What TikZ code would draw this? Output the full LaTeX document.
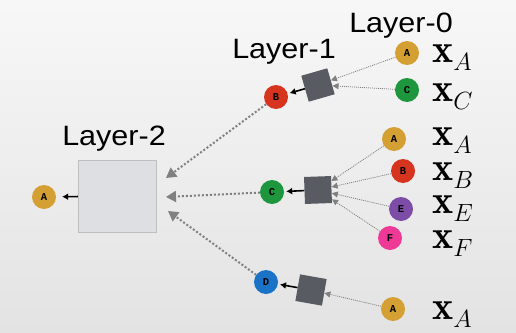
\documentclass[tikz,border=0pt]{standalone}
\usepackage{fontspec}
\usetikzlibrary{arrows.meta}
\newfontfamily\layerfont{Liberation Sans}[FakeStretch=1.09]
\newfontfamily\tagfont{Liberation Mono}
\definecolor{gold}{RGB}{212,160,52}
\definecolor{redv}{RGB}{214,52,30}
\definecolor{greenv}{RGB}{30,150,62}
\definecolor{purplev}{RGB}{124,76,166}
\definecolor{pinkv}{RGB}{238,58,150}
\definecolor{bluev}{RGB}{27,115,200}
\definecolor{aggfill}{RGB}{88,92,98}
\definecolor{boxfill}{RGB}{221,223,226}

\begin{document}
\begin{tikzpicture}[x=1pt,y=-1pt,
  vtx/.style={circle,fill=#1,minimum size=24pt,inner sep=0pt,font=\tagfont\bfseries\fontsize{10.5}{10.5}\selectfont},
  agg/.style={fill=aggfill,minimum size=27pt,inner sep=0pt},
  layer/.style={anchor=base,inner sep=0pt,text height=20pt,text depth=5pt,font=\layerfont\fontsize{28}{28}\selectfont},
  feat/.style={anchor=base west,inner sep=0pt,text height=18pt,text depth=5pt,font=\fontsize{40}{40}\selectfont},
  msg/.style={gray,line width=0.8pt,dash pattern=on 1pt off 1pt,-{Triangle[length=6pt,width=6pt]}},
  bigmsg/.style={gray,line width=2pt,dash pattern=on 2pt off 2pt,-{Triangle[length=10pt,width=11pt]}},
  outarrow/.style={black,line width=1.6pt,shorten >=2pt,-{Latex[length=6pt,width=7pt]}}
]
  \useasboundingbox (0,0) rectangle (516,332);
  \shade[top color=white!97!black,bottom color=white!89!black] (0,0) rectangle (516,332);

  \node[layer] (lab0) at (401,32) {Layer-0};
  \node[layer] (lab1) at (284,58) {Layer-1};
  \node[layer] (lab2) at (114,145) {Layer-2};

  \node[fill=boxfill,draw=gray!50,line width=0.4pt,minimum width=78pt,minimum height=72pt] (L2) at (117,196) {};
  \node[vtx=gold] (a2) at (44,197) {A};

  \node[agg,rotate=16] (sq1) at (318,85) {};
  \node[agg,rotate=2] (sq2) at (318,190) {};
  \node[agg,rotate=-10] (sq3) at (311,290) {};

  \node[vtx=redv] (b1) at (276,97) {B};
  \node[vtx=greenv] (c1) at (272,192) {C};
  \node[vtx=bluev] (d1) at (266,282) {D};

  \node[vtx=gold] (ta) at (407,53) {A};
  \node[vtx=greenv] (tc) at (407,90) {C};
  \node[vtx=gold] (ma) at (394,139) {A};
  \node[vtx=redv] (mb) at (403,171) {B};
  \node[vtx=purplev] (me) at (401,209) {E};
  \node[vtx=pinkv] (mf) at (390,238) {F};
  \node[vtx=gold] (ba) at (393,309) {A};

  \node[feat] (xta) at (432,62) {$\mathbf{x}_A$};
  \node[feat] (xtc) at (432,101) {$\mathbf{x}_C$};
  \node[feat] (xma) at (432,145) {$\mathbf{x}_A$};
  \node[feat] (xmb) at (432,180) {$\mathbf{x}_B$};
  \node[feat] (xme) at (432,213) {$\mathbf{x}_E$};
  \node[feat] (xmf) at (432,248) {$\mathbf{x}_F$};
  \node[feat] (xba) at (432,319) {$\mathbf{x}_A$};

  \coordinate (in1) at (166,178);
  \coordinate (in2) at (166,197);
  \coordinate (in3) at (168,211);

  \draw[msg] (ta) -- (sq1);
  \draw[msg] (tc) -- (sq1);
  \draw[msg] (ma) -- (sq2);
  \draw[msg] (mb) -- (sq2);
  \draw[msg] (me) -- (sq2);
  \draw[msg] (mf) -- (sq2);
  \draw[msg] (ba) -- (sq3);

  \draw[outarrow] (sq1) -- (b1);
  \draw[outarrow] (sq2) -- (c1);
  \draw[outarrow] (sq3) -- (d1);
  \draw[outarrow,shorten >=6pt] (L2) -- (a2);

  \draw[bigmsg] (b1) -- (in1);
  \draw[bigmsg] (c1) -- (in2);
  \draw[bigmsg] (d1) -- (in3);
\end{tikzpicture}
\end{document}
